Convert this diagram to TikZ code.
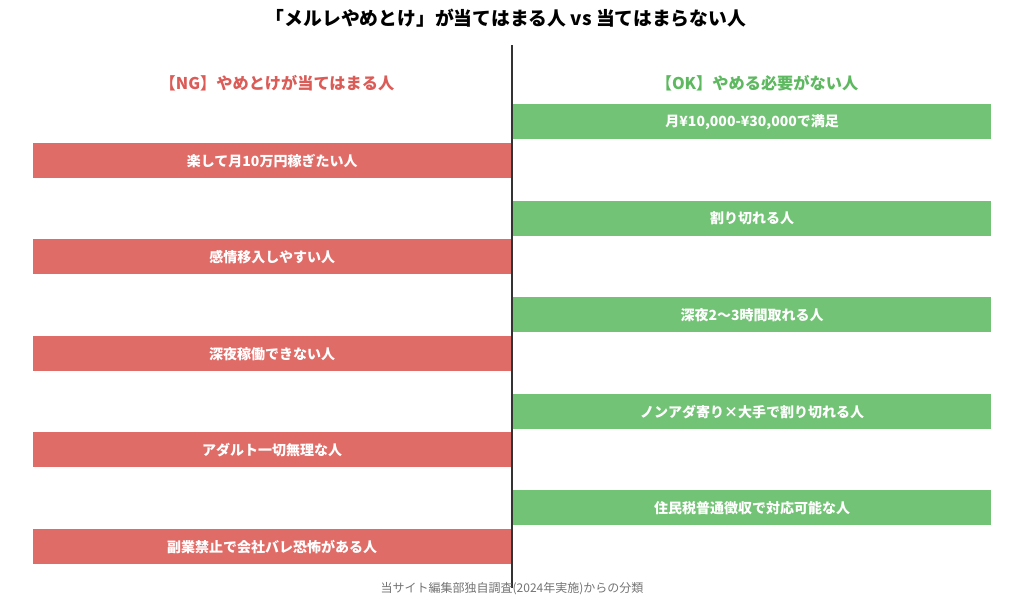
\documentclass[tikz,border=0pt]{standalone}
\usepackage{fontspec}
\setmainfont{Noto Sans CJK JP}
\usepackage{xcolor}
\usetikzlibrary{positioning}

\definecolor{ngred}{HTML}{E06C68}
\definecolor{okgreen}{HTML}{72C375}
\definecolor{ngtext}{HTML}{DB5B57}
\definecolor{oktext}{HTML}{5DB860}

\begin{document}
\begin{tikzpicture}[
					x=1pt, y=-1pt,
					bar/.style={
						minimum width=478pt, minimum height=35pt,
						inner sep=0pt, font=\fontsize{14}{16}\selectfont\bfseries,
						text=white
					},
					ngbar/.style={bar, fill=ngred, anchor=north west},
					okbar/.style={bar, fill=okgreen, anchor=north west},
					head/.style={font=\fontsize{16.2}{18}\selectfont\bfseries},
					divider/.style={draw=black!80, line width=2pt}
					]
					\useasboundingbox (0,0) rectangle (1024,606);
					
					% --- TITLE ---
					\node[font=\fontsize{18.8}{20}\selectfont\bfseries] (title) at (506,18) {「メルレやめとけ」が当てはまる人 vs 当てはまらない人};
					
					% --- DIVIDER ---
					\coordinate (top) at (512,45);
					\coordinate (bottom) at (512,588);
					\draw[divider] (top) -- (bottom);
					
					% --- HEADERS ---
					\node[head, text=ngtext] (nghead) at (277,83) {【NG】やめとけが当てはまる人};
					\node[head, text=oktext] (okhead) at (757,83) {【OK】やめる必要がない人};
					
					% --- NG SIDE ---
					\node[ngbar] (ng1) at (33,143) {楽して月10万円稼ぎたい人};
					\node[ngbar] (ng2) at (33,239) {感情移入しやすい人};
					\node[ngbar] (ng3) at (33,336) {深夜稼働できない人};
					\node[ngbar] (ng4) at (33,432) {アダルト一切無理な人};
					\node[ngbar] (ng5) at (33,529) {副業禁止で会社バレ恐怖がある人};
					
					% --- OK SIDE ---
					\node[okbar] (ok1) at (513,104) {月¥10,000-¥30,000で満足};
					\node[okbar] (ok2) at (513,201) {割り切れる人};
					\node[okbar] (ok3) at (513,297) {深夜2〜3時間取れる人};
					\node[okbar] (ok4) at (513,394) {ノンアダ寄り×大手で割り切れる人};
					\node[okbar] (ok5) at (513,490) {住民税普通徴収で対応可能な人};
					
					% --- SOURCE ---
					\node[font=\fontsize{12}{14}\selectfont, text=black!55] (source) at (512,589) {当サイト編集部独自調査(2024年実施)からの分類};
					
				\end{tikzpicture}
\end{document}
